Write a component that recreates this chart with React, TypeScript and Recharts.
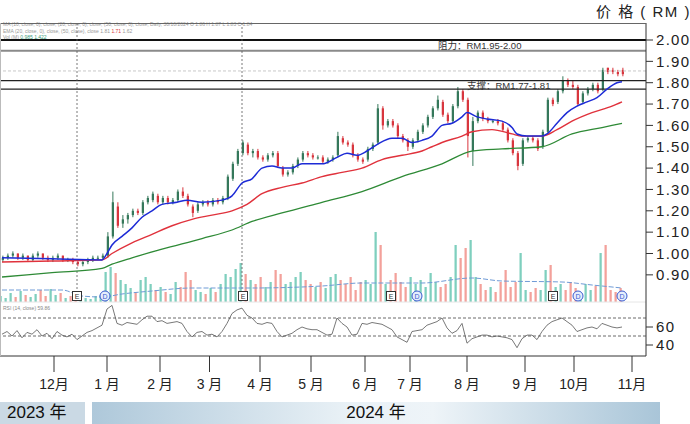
import React from 'react';
import { ComposedChart, LineChart, Line, Bar, XAxis, YAxis, ReferenceLine, ReferenceDot } from 'recharts';

// ---------- data (prices in sen) ----------
const opens = [
  97, 98, 99, 100, 98, 99, 97, 99, 100, 98,
  97, 98, 99, 97, 97, 96, 95, 96, 97, 98,
  98, 99, 108, 122, 114, 116, 118, 120, 119, 124,
  125, 127, 124, 126, 124, 125, 129, 127, 122, 120,
  123, 124, 123, 125, 124, 126, 135, 142, 147, 151,
  147, 148, 145, 144, 146, 147, 140, 137, 138, 141,
  144, 147, 146, 145, 145, 143, 144, 146, 154, 152,
  151, 146, 144, 144, 149, 152, 168, 160, 162, 160,
  155, 153, 150, 153, 157, 160, 164, 168, 171, 165,
  162, 169, 176, 172, 148, 162, 166, 163, 162, 162,
  161, 158, 153, 147, 142, 153, 154, 153, 150, 157,
  172, 171, 176, 181, 179, 178, 171, 175, 177, 179,
  177, 187, 186, 185, 186,
];
const highs = [
  99, 100, 101, 100, 100, 99, 100, 101, 100, 99,
  99, 100, 99, 98, 98, 97, 97, 98, 99, 99,
  100, 110, 129, 124, 118, 119, 121, 121, 125, 127,
  129, 128, 127, 127, 126, 130, 131, 128, 123, 124,
  125, 125, 126, 126, 127, 137, 143, 149, 153, 152,
  149, 149, 146, 147, 148, 148, 141, 139, 142, 145,
  148, 148, 147, 146, 146, 145, 146, 157, 155, 153,
  152, 147, 145, 150, 152, 170, 169, 163, 163, 161,
  156, 154, 154, 158, 161, 165, 169, 174, 172, 166,
  170, 178, 177, 173, 164, 167, 167, 164, 163, 163,
  162, 159, 154, 148, 154, 155, 155, 154, 158, 173,
  173, 177, 183, 182, 181, 179, 176, 178, 180, 180,
  187, 187, 187, 186, 187,
];
const lows = [
  96, 97, 98, 97, 97, 96, 96, 98, 97, 96,
  96, 97, 96, 96, 95, 94, 94, 95, 96, 97,
  97, 98, 107, 112, 112, 114, 117, 118, 118, 123,
  124, 123, 123, 123, 123, 124, 126, 122, 117, 119,
  122, 122, 122, 123, 123, 125, 134, 141, 146, 146,
  145, 144, 143, 143, 145, 140, 136, 136, 137, 140,
  143, 145, 144, 144, 142, 142, 143, 145, 151, 150,
  145, 143, 142, 143, 148, 151, 158, 159, 159, 154,
  152, 148, 149, 152, 156, 159, 163, 167, 164, 161,
  161, 168, 171, 145, 141, 161, 162, 161, 161, 160,
  157, 152, 146, 139, 141, 152, 152, 148, 149, 156,
  169, 170, 175, 178, 177, 169, 170, 174, 176, 175,
  176, 184, 184, 183, 183,
];
const closes = [
  98, 99, 100, 98, 99, 97, 99, 100, 98, 97,
  98, 99, 97, 97, 96, 95, 96, 97, 98, 98,
  99, 108, 124, 113, 116, 118, 120, 119, 124, 126,
  128, 124, 126, 124, 125, 129, 127, 123, 119, 123,
  124, 123, 125, 124, 126, 136, 142, 148, 152, 147,
  148, 145, 144, 146, 147, 141, 137, 138, 141, 144,
  147, 146, 145, 145, 143, 144, 145, 155, 152, 151,
  146, 144, 143, 149, 151, 168, 160, 162, 160, 155,
  153, 150, 153, 157, 160, 164, 168, 172, 165, 162,
  169, 176, 172, 155, 162, 166, 163, 162, 162, 161,
  158, 153, 147, 141, 153, 154, 153, 149, 157, 172,
  170, 176, 181, 179, 178, 170, 175, 177, 179, 176,
  186, 185, 185, 184, 184,
];
const volumes = [
  6, 4, 9, 5, 11, 7, 5, 8, 12, 6,
  13, 7, 9, 4, 6, 8, 5, 4, 3, 6,
  7, 30, 35, 29, 22, 18, 14, 10, 22, 25,
  18, 12, 15, 10, 8, 20, 15, 30, 22, 12,
  10, 8, 14, 10, 18, 28, 25, 33, 39, 28,
  22, 18, 25, 15, 20, 32, 28, 18, 20, 25,
  30, 22, 18, 15, 20, 14, 25, 28, 22, 18,
  25, 12, 20, 22, 18, 70, 57, 18, 22, 29,
  20, 15, 25, 18, 22, 15, 29, 20, 15, 18,
  25, 57, 44, 54, 62, 25, 18, 12, 15, 10,
  20, 32, 15, 20, 49, 12, 10, 14, 12, 32,
  37, 15, 18, 12, 20, 14, 10, 18, 12, 16,
  49, 57, 12, 10, 14,
];
const rsiValues = [
  52, 55, 50, 56, 48, 54, 52, 57, 50, 53,
  47, 55, 51, 49, 52, 46, 50, 54, 56, 59,
  62, 80, 84, 64, 62, 65, 64, 63, 68, 72,
  72, 66, 67, 64, 65, 66, 64, 55, 49, 54,
  55, 51, 52, 49, 55, 64, 75, 79, 81, 73,
  70, 64, 63, 65, 64, 55, 49, 51, 53, 57,
  60, 58, 57, 57, 54, 51, 52, 70, 64, 60,
  51, 52, 64, 63, 65, 64, 63, 60, 57, 49,
  46, 43, 55, 56, 57, 62, 64, 66, 70, 59,
  53, 56, 64, 42, 47, 49, 51, 51, 49, 50,
  49, 48, 46, 37, 47, 51, 51, 46, 55, 62,
  66, 68, 70, 66, 62, 55, 57, 59, 60, 58,
  64, 62, 60, 59, 60,
];
// moving averages read at selected sessions: [session index, value]
const maShortPts = [
  [0, 0.98], [10, 0.975], [20, 0.97], [21, 1.0], [22, 1.04], [24, 1.08], [26, 1.12], [28, 1.17],
  [30, 1.2], [32, 1.23], [35, 1.24], [37, 1.25], [40, 1.24], [44, 1.25], [46, 1.27], [48, 1.33],
  [50, 1.35], [52, 1.4], [54, 1.41], [56, 1.4], [58, 1.4], [60, 1.42], [64, 1.42], [67, 1.45],
  [69, 1.47], [71, 1.46], [73, 1.48], [75, 1.51], [78, 1.54], [80, 1.54], [82, 1.52], [84, 1.53],
  [86, 1.55], [88, 1.6], [90, 1.61], [92, 1.64], [93, 1.66], [95, 1.64], [97, 1.63], [100, 1.62],
  [102, 1.59], [103, 1.56], [105, 1.55], [108, 1.55], [109, 1.56], [111, 1.61], [113, 1.66],
  [115, 1.69], [117, 1.71], [119, 1.73], [121, 1.77], [123, 1.8], [124, 1.805],
];
const maMidPts = [
  [0, 0.96], [10, 0.965], [20, 0.97], [22, 1.0], [26, 1.05], [30, 1.09], [34, 1.13], [38, 1.16],
  [42, 1.18], [46, 1.2], [49, 1.23], [52, 1.28], [56, 1.31], [60, 1.33], [64, 1.36], [68, 1.38],
  [72, 1.4], [76, 1.44], [80, 1.46], [84, 1.48], [86, 1.5], [88, 1.52], [92, 1.55], [94, 1.57],
  [98, 1.58], [102, 1.56], [104, 1.55], [108, 1.55], [111, 1.58], [114, 1.62], [118, 1.66],
  [122, 1.69], [124, 1.71],
];
const maLongPts = [
  [0, 0.89], [10, 0.91], [20, 0.93], [22, 0.95], [26, 0.98], [32, 1.02], [40, 1.07], [46, 1.11],
  [50, 1.15], [56, 1.19], [64, 1.24], [72, 1.29], [80, 1.36], [88, 1.42], [94, 1.48], [100, 1.49],
  [108, 1.5], [114, 1.56], [120, 1.59], [124, 1.61],
];
const volMaPts = [
  [0, 12], [12, 12], [16, 6], [20, 5], [24, 8], [30, 11], [38, 14], [50, 14], [64, 16], [72, 19],
  [84, 19], [94, 24], [100, 21], [112, 20], [118, 17], [124, 14],
];
const monthTickPos = [10.4, 21, 31.6, 41.5, 51.6, 61.8, 72.6, 81.6, 93, 104.6, 114.4, 126];
const monthLabels = ['12月', '1 月', '2 月', '3 月', '4 月', '5 月', '6 月', '7 月', '8 月', '9 月', '10月', '11月'];
const priceTicks = [0.9, 1.0, 1.1, 1.2, 1.3, 1.4, 1.5, 1.6, 1.7, 1.8, 1.9, 2.0];
const rsiTicks = [40, 60];
const rsiLevels = [70, 50];
const resistanceLevels = [2.0, 1.95];
const supportLevels = [1.81, 1.77];
const lastPriceLevel = 1.855;
const eventSessions = [15, 48.2, 77.8, 110.2];
const dividendSessions = [20.6, 83, 115.2, 124];
const markerLines = [15, 48];

// ---------- layout constants ----------
const W = 690;
const H = 424;
const PLOT_TOP = 23;
const PLOT_BOTTOM = 356;
const PLOT_RIGHT = 646;
const AXIS_W = W - PLOT_RIGHT;
const PX_PER_PRICE = 213.5;
const Y_200 = 40;
const pMax = 2 + (Y_200 - PLOT_TOP) / PX_PER_PRICE;
const pMin = 2 - (PLOT_BOTTOM - Y_200) / PX_PER_PRICE;
const priceAtPx = (y: number) => 2 - (y - Y_200) / PX_PER_PRICE;
const VOL_BASE = 302;
const volMin = -(PLOT_BOTTOM - VOL_BASE);
const volMax = volMin + (PLOT_BOTTOM - PLOT_TOP);
const RSI_PX = 0.9;
const Y_RSI60 = 327;
const rMax = 60 + (Y_RSI60 - PLOT_TOP) / RSI_PX;
const rMin = 60 - (PLOT_BOTTOM - Y_RSI60) / RSI_PX;
const xDomain = [-0.4, (PLOT_RIGHT / 5) - 0.4];

const UP = '#35785b';
const DOWN = '#d8363e';
const VOL_UP = '#7fcfbe';
const VOL_DOWN = '#f3a19b';
const FONT = '"Liberation Sans", Arial, "Noto Sans CJK SC", sans-serif';

const spread = (pts: number[][], n: number) => {
  const arr: (number | null)[] = new Array(n).fill(null);
  pts.forEach(([i, v]) => { arr[i] = v; });
  return arr;
};

const N = closes.length;
const ma1 = spread(maShortPts, N);
const ma2 = spread(maMidPts, N);
const ma3 = spread(maLongPts, N);
const vma = spread(volMaPts, N);

const rows = closes.map((c, i) => ({
  i,
  o: opens[i] / 100,
  h: highs[i] / 100,
  l: lows[i] / 100,
  c: c / 100,
  up: c >= opens[i],
  v: volumes[i],
  ma1: ma1[i],
  ma2: ma2[i],
  ma3: ma3[i],
  vma: vma[i],
}));
const rsiRows = rsiValues.map((r, i) => ({ i, rsi: r }));

const Candle = (props: any) => {
  const { x, y, width, height, payload } = props;
  if (!payload || x == null) return null;
  const top = Math.min(y, y + height);
  const hh = Math.abs(height);
  const range = Math.max(payload.h - payload.l, 1e-6);
  const ppu = hh / range;
  const yO = top + (payload.h - payload.o) * ppu;
  const yC = top + (payload.h - payload.c) * ppu;
  const color = payload.c >= payload.o ? UP : DOWN;
  const cx = x + width / 2;
  return (
    <g>
      <line x1={cx} x2={cx} y1={top} y2={top + hh} stroke={color} strokeWidth={1} />
      <rect x={x} y={Math.min(yO, yC)} width={width} height={Math.max(Math.abs(yC - yO), 1)} fill={color} />
    </g>
  );
};

const VolBar = (props: any) => {
  const { x, y, width, height, payload } = props;
  if (!payload || x == null) return null;
  return <rect x={x} y={Math.min(y, y + height)} width={width} height={Math.abs(height)} fill={payload.up ? VOL_UP : VOL_DOWN} />;
};

const SquareMark = (props: any) => {
  const { cx, cy } = props;
  return (
    <g>
      <rect x={cx - 4.5} y={cy - 4.5} width={9} height={9} fill="#fff" stroke="#333" strokeWidth={1} />
      <text x={cx} y={cy + 2.5} fontSize={7} textAnchor="middle" fill="#333">E</text>
    </g>
  );
};
const CircleMark = (props: any) => {
  const { cx, cy } = props;
  return (
    <g>
      <circle cx={cx} cy={cy} r={5} fill="#e6eefc" stroke="#3a5bd0" strokeWidth={1} />
      <text x={cx} y={cy + 2.5} fontSize={7} textAnchor="middle" fill="#3a5bd0">D</text>
    </g>
  );
};

const tickStyle = { fontSize: 15, fill: '#222', letterSpacing: 1.3 };

export default function App() {
  return (
    <div style={{ position: 'absolute', left: 0, top: 0, width: W, height: H, background: '#fff', fontFamily: FONT, overflow: 'hidden' }}>
      {/* title */}
      <div style={{ position: 'absolute', left: 596, top: 0, fontSize: 15, color: '#222', letterSpacing: 1.5, whiteSpace: 'pre' }}>价 格 ( RM )</div>
      {/* legend lines */}
      <div style={{ position: 'absolute', left: 3, top: 21, fontSize: 5, color: '#999', whiteSpace: 'nowrap', lineHeight: '6.5px' }}>
        <div>MA (10, close, 0), close, (20, close, 0), close, (50, close, 0), close, Daily, 30/10/2024  O 1.86  H 1.87  L 1.83  C 1.84</div>
        <div>EMA (20, close, 0), close, (50, close), close  1.81 <span style={{ color: '#d8363e' }}>1.71</span>  1.62</div>
        <div>Vol (M) <span style={{ color: '#3a9c7a' }}>0.985 1.422</span></div>
      </div>

      <div style={{ position: 'absolute', left: 0, top: 0 }}>
        <ComposedChart width={W} height={H} data={rows} margin={{ top: PLOT_TOP, right: 0, left: 0, bottom: H - PLOT_BOTTOM - 30 }}>
          <XAxis
            dataKey="i"
            type="number"
            domain={xDomain}
            allowDataOverflow
            ticks={monthTickPos}
            tickFormatter={(v: number) => monthLabels[monthTickPos.indexOf(v)]}
            interval={0}
            height={30}
            tickSize={16}
            tickMargin={7}
            stroke="#333"
            tick={{ fontSize: 14, fill: '#222' }}
          />
          <YAxis
            yAxisId="price"
            orientation="right"
            domain={[pMin, pMax]}
            allowDataOverflow
            ticks={priceTicks}
            interval={0}
            tickFormatter={(v: number) => v.toFixed(2)}
            width={AXIS_W}
            tickSize={7}
            tickMargin={3}
            stroke="#333"
            tick={tickStyle}
          />
          <YAxis yAxisId="vol" hide domain={[volMin, volMax]} allowDataOverflow />

          {resistanceLevels.map((p, k) => (
            <ReferenceLine key={'r' + k} yAxisId="price" y={p} stroke={k === 0 ? '#111' : '#8a8a8a'} strokeWidth={2} ifOverflow="visible" />
          ))}
          <ReferenceLine yAxisId="price" y={lastPriceLevel} stroke="#c8c8c8" strokeDasharray="3 2" />
          {supportLevels.map((p, k) => (
            <ReferenceLine key={'s' + k} yAxisId="price" y={p} stroke="#222" strokeWidth={1.2} />
          ))}
          <ReferenceLine yAxisId="vol" y={0} stroke="#e6e6e6" />
          {markerLines.map((m) => (
            <ReferenceLine key={'m' + m} yAxisId="price" segment={[{ x: m, y: pMax }, { x: m, y: priceAtPx(VOL_BASE) }]} stroke="#555" strokeDasharray="2 2" strokeWidth={0.8} />
          ))}

          <Bar yAxisId="vol" dataKey="v" barSize={4} shape={VolBar} isAnimationActive={false} />
          <Line yAxisId="vol" dataKey="vma" stroke="#6f9bd6" strokeWidth={1} dot={false} connectNulls type="monotone" strokeDasharray="5 2" isAnimationActive={false} />

          <Line yAxisId="price" dataKey="ma3" stroke="#2e8a36" strokeWidth={1.3} dot={false} connectNulls type="monotone" isAnimationActive={false} />
          <Line yAxisId="price" dataKey="ma2" stroke="#e0323c" strokeWidth={1.4} dot={false} connectNulls type="monotone" isAnimationActive={false} />
          <Bar yAxisId="price" dataKey={(d: any) => [d.l, d.h]} barSize={3} shape={Candle} isAnimationActive={false} />
          <Line yAxisId="price" dataKey="ma1" stroke="#1d2bd6" strokeWidth={1.5} dot={false} connectNulls type="monotone" isAnimationActive={false} />

          {eventSessions.map((s) => (
            <ReferenceDot key={'e' + s} yAxisId="vol" x={s} y={6} r={5} shape={SquareMark} ifOverflow="visible" />
          ))}
          {dividendSessions.map((s) => (
            <ReferenceDot key={'d' + s} yAxisId="vol" x={s} y={6} r={5} shape={CircleMark} ifOverflow="visible" />
          ))}
        </ComposedChart>
      </div>

      <div style={{ position: 'absolute', left: 0, top: 0 }}>
        <LineChart width={W} height={H} data={rsiRows} margin={{ top: PLOT_TOP, right: 0, left: 0, bottom: H - PLOT_BOTTOM }}>
          <XAxis dataKey="i" type="number" domain={xDomain} allowDataOverflow hide />
          <YAxis
            yAxisId="rsi"
            orientation="right"
            domain={[rMin, rMax]}
            allowDataOverflow
            ticks={rsiTicks}
            interval={0}
            width={AXIS_W}
            axisLine={false}
            tickSize={7}
            tickMargin={3}
            stroke="#333"
            tick={tickStyle}
          />
          {rsiLevels.map((r) => (
            <ReferenceLine key={'rl' + r} yAxisId="rsi" y={r} stroke="#444" strokeDasharray="3 2" strokeWidth={0.8} />
          ))}
          <Line yAxisId="rsi" dataKey="rsi" stroke="#555" strokeWidth={0.8} dot={false} type="linear" isAnimationActive={false} />
        </LineChart>
      </div>

      {/* panel borders */}
      <div style={{ position: 'absolute', left: 0, top: PLOT_TOP, width: PLOT_RIGHT, height: 0, borderTop: '1px solid #666' }} />
      <div style={{ position: 'absolute', left: 0, top: PLOT_TOP, width: 0, height: PLOT_BOTTOM - PLOT_TOP, borderLeft: '1px solid #bbb' }} />

      {/* level labels */}
      <div style={{ position: 'absolute', left: 438, top: 41, fontSize: 9.5, color: '#333', whiteSpace: 'nowrap', lineHeight: '10px' }}>阻力：RM1.95-2.00</div>
      <div style={{ position: 'absolute', left: 467, top: 80.5, fontSize: 9.5, color: '#333', whiteSpace: 'nowrap', lineHeight: '10px' }}>支撑：RM1.77-1.81</div>
      <div style={{ position: 'absolute', left: 3, top: 305, fontSize: 5, color: '#888', whiteSpace: 'nowrap' }}>RSI (14, close) 59.86</div>

      {/* year bar */}
      <div style={{ position: 'absolute', left: 0, top: 402, width: 85, height: 22, background: '#cad9e4', fontSize: 17, color: '#111', lineHeight: '22px', paddingLeft: 7, boxSizing: 'border-box', whiteSpace: 'nowrap' }}>2023 年</div>
      <div style={{ position: 'absolute', left: 92, top: 402, width: 568, height: 22, background: 'linear-gradient(to right, #aec8da 0%, #e9f1f6 45%, #eef4f8 60%, #a9c5d8 100%)', fontSize: 17, color: '#111', lineHeight: '22px', textAlign: 'center', whiteSpace: 'nowrap' }}>2024 年</div>
    </div>
  );
}
